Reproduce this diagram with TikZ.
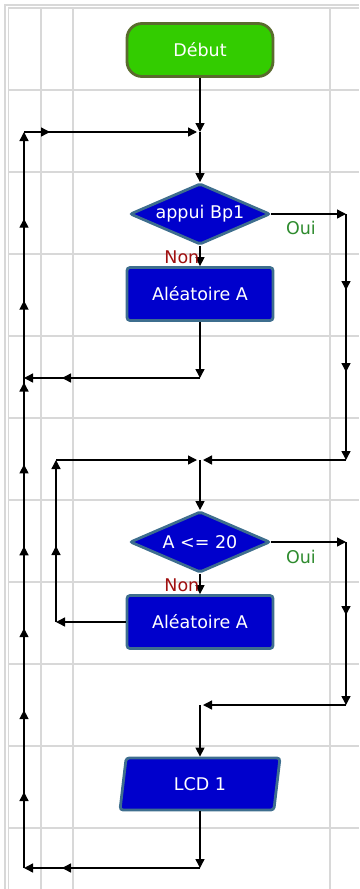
\documentclass[tikz,border=0pt]{standalone}
\usepackage{fontspec}
\setmainfont{DejaVu Sans}
\usepackage{xcolor}
\usepackage{tikz}
\usetikzlibrary{shapes.geometric, arrows.meta, positioning, decorations.markings}

\definecolor{flowblue}{HTML}{0000CC}
\definecolor{flowedge}{HTML}{3E6E8E}
\definecolor{startgreen}{HTML}{33CC00}
\definecolor{startedge}{HTML}{5A6B2E}
\definecolor{ouigreen}{HTML}{2E8B2E}
\definecolor{nonred}{HTML}{A01010}
\definecolor{gridgray}{HTML}{D8D8D8}

\begin{document}
\begin{tikzpicture}[
    x=1pt, y=-1pt,
    font=\fontsize{17.5}{20}\selectfont,
    on grid,
    >={Triangle[length=9pt, width=9pt]},
    gridline/.style={draw=gridgray, line width=1.2pt},
    startstop/.style={rectangle, rounded corners=15pt, draw=startedge, fill=startgreen, line width=2.8pt, text=white, minimum width=146pt, minimum height=53pt},
    process/.style={rectangle, rounded corners=3pt, draw=flowedge, fill=flowblue, line width=2.8pt, text=white, minimum width=146pt, minimum height=53pt},
    decision/.style={diamond, aspect=2.3, rounded corners=2pt, draw=flowedge, fill=flowblue, line width=2.8pt, text=white, inner sep=0pt, minimum width=140pt, minimum height=61pt},
    io/.style={trapezium, trapezium left angle=83, trapezium right angle=97, trapezium stretches=true, rounded corners=3pt, draw=flowedge, fill=flowblue, line width=2.8pt, text=white, minimum width=160pt, minimum height=52pt},
    arrow/.style={->, line width=1.4pt},
    tipat/.style={postaction={decorate, decoration={markings, mark=at position #1 with {\arrow{>}}}}},
    tiprun/.style n args={3}{postaction={decorate, decoration={markings, mark=between positions #1 and #2 step #3 with {\arrow{>}}}}},
    yes/.style={text=ouigreen, inner sep=0pt},
    no/.style={text=nonred, inner sep=0pt},
]
    \useasboundingbox (0,0) rectangle (359,889);

    % grid of the editor
    \foreach \gx in {41,73,330} \draw[gridline] (\gx,7) -- (\gx,889);
    \foreach \gy in {90,172,...,828} \draw[gridline] (8,\gy) -- (359,\gy);
    \draw[gridline] (5,889) -- (5,5) -- (359,5);
    \draw[gridline] (8.5,889) -- (8.5,8) -- (359,8);

    \node[startstop] (start) at (200,50) {Début};
    \node[decision, below=164pt of start] (test1) {appui Bp1};
    \node[process, below=80pt of test1] (rand1) {Aléatoire A};
    \node[decision, below=248pt of rand1] (test2) {A <= 20};
    \node[process, below=80pt of test2] (rand2) {Aléatoire A};
    \node[io, below=162pt of rand2] (lcd) {LCD 1};

    % junctions and corners of the loops
    \coordinate[below=82pt of start] (j1);
    \coordinate[below=84pt of rand1] (j2);
    \coordinate[below=166pt of rand1] (j3);
    \coordinate[below=83pt of rand2] (j4);
    \coordinate[below=84pt of lcd] (j5);
    \coordinate[below left=82pt and 176pt of start] (l1);
    \coordinate[below left=84pt and 176pt of rand1] (l2);
    \coordinate[below left=84pt and 176pt of lcd] (l5);
    \coordinate[right=146pt of test1] (r1);
    \coordinate[below right=166pt and 146pt of rand1] (r2);
    \coordinate[right=146pt of test2] (r3);
    \coordinate[below right=83pt and 146pt of rand2] (r4);
    \coordinate[below left=166pt and 144pt of rand1] (i2);
    \coordinate[left=144pt of rand2] (i1);

    \draw[arrow] (start) -- (j1);
    \draw[arrow] (j1) -- (test1);
    \draw[arrow] (test1) -- node[no, pos=0, anchor=north east, yshift=-4pt] {Non} (rand1);
    \draw[arrow] (test1) -- node[yes, pos=0, anchor=north west, xshift=14pt, yshift=-7pt] {Oui} (r1);
    \draw[arrow, tipat=76pt, tipat=158pt] (r1) -- (r2);
    \draw[arrow, shorten >=3pt] (r2) -- (j3);
    \draw[arrow] (rand1) -- (j2);
    \draw[arrow, tipat=138pt] (j2) -- (l2);

    \draw[arrow] (j3) -- (test2);
    \draw[arrow] (test2) -- node[no, pos=0, anchor=north east, yshift=-4pt] {Non} (rand2);
    \draw[arrow] (rand2) -- (i1);
    \draw[arrow, tipat=76pt] (i1) -- (i2);
    \draw[arrow, shorten >=3pt] (i2) -- (j3);
    \draw[arrow] (test2) -- node[yes, pos=0, anchor=north west, xshift=14pt, yshift=-7pt] {Oui} (r3);
    \draw[arrow, tipat=73pt] (r3) -- (r4);
    \draw[arrow, shorten >=3pt] (r4) -- (j4);
    \draw[arrow] (j4) -- (lcd);

    \draw[arrow] (lcd) -- (j5);
    \draw[arrow, tipat=138pt] (j5) -- (l5);
    \draw[arrow, tiprun={76pt}{660pt}{81.9pt}] (l5) -- (l1);
    \draw[arrow, tipat=26pt, shorten >=3pt] (l1) -- (j1);
\end{tikzpicture}
\end{document}
